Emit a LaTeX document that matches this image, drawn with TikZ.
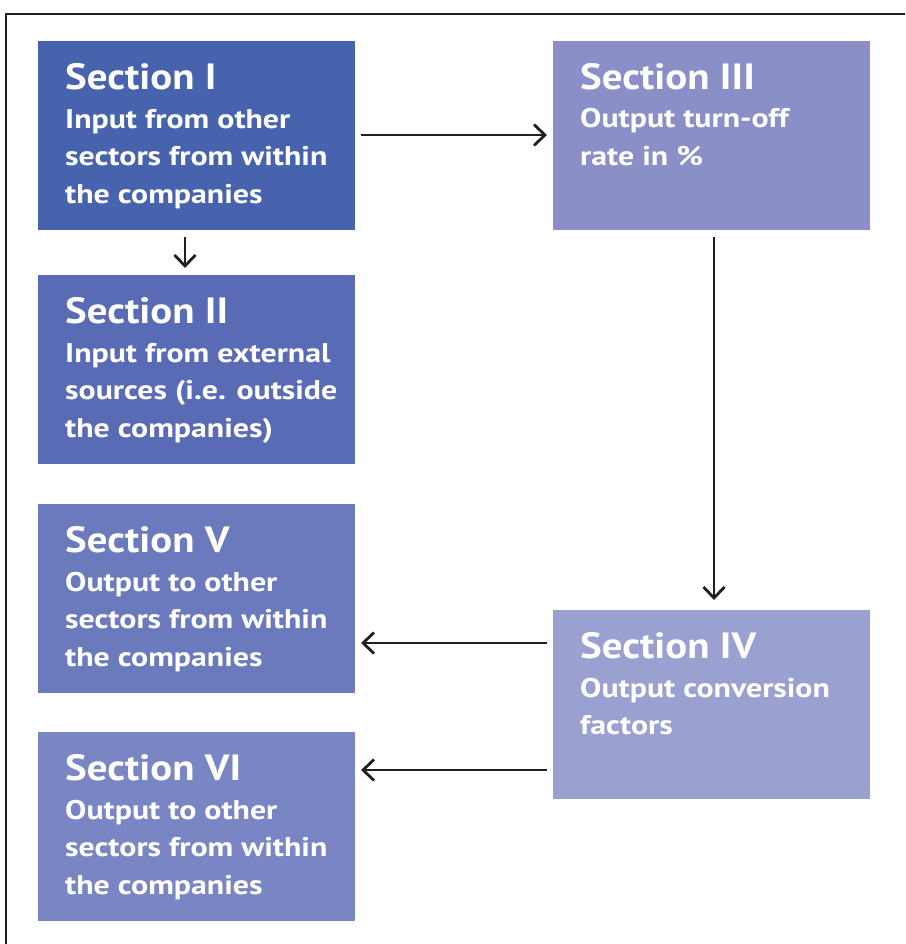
\documentclass[tikz,border=0pt]{standalone}
\usepackage{fontspec}
\setmainfont{PT Sans}
\newfontfamily\wideface{PT Sans}[FakeStretch=1.18]
\newfontfamily\titleface{PT Sans}[FakeStretch=1.12]
\usetikzlibrary{arrows.meta}
\definecolor{cI}{HTML}{4763AD}
\definecolor{cII}{HTML}{5A6BB5}
\definecolor{cIII}{HTML}{8A90C7}
\definecolor{cIV}{HTML}{9AA0D0}
\definecolor{cV}{HTML}{6B79BD}
\definecolor{cVI}{HTML}{7A85C3}
\definecolor{ink}{HTML}{231F20}
\begin{document}
\begin{tikzpicture}[x=1pt,y=-1pt,
  secbox/.style={minimum width=317pt,minimum height=189pt,inner sep=0pt,anchor=north west,draw=none},
  sectitle/.style={anchor=base west,inner sep=0pt,text=white,font=\titleface\bfseries\fontsize{36.5}{40}\selectfont},
  secbody/.style={anchor=base west,inner sep=0pt,text=white,align=left,font=\wideface\bfseries\fontsize{27}{37.7}\selectfont},
  link/.style={draw=ink,line width=2.8pt,-{Straight Barb[length=11pt,width=21pt]}}]
\useasboundingbox (0,0) rectangle (905,944);
\fill[white] (0,0) rectangle (905,944);
\draw[ink,line width=2.2pt] (6,944) -- (6,14) -- (905,14);
% boxes
\node[secbox,fill=cI]   (s1) at (38,41)  {};
\node[secbox,fill=cIII] (s3) at (553,41) {};
\node[secbox,fill=cII]  (s2) at (38,275) {};
\node[secbox,fill=cV]   (s5) at (38,504) {};
\node[secbox,fill=cIV]  (s4) at (553,610) {};
\node[secbox,fill=cVI]  (s6) at (38,732) {};
% texts (body nodes anchored at the baseline of their last line)
\node[sectitle] (t1) at (65,89.3) {Section I};
\node[secbody]  (b1) at (65,203.4) {Input from other\\sectors from within\\the companies};
\node[sectitle] (t3) at (580,89.3) {Section III};
\node[secbody]  (b3) at (580,165.7) {Output turn-off\\rate in \%};
\node[sectitle] (t2) at (65,323.3) {Section II};
\node[secbody]  (b2) at (65,437.4) {Input from external\\sources (i.e. outside\\the companies)};
\node[sectitle] (t5) at (65,552.3) {Section V};
\node[secbody]  (b5) at (65,666.4) {Output to other\\sectors from within\\the companies};
\node[sectitle] (t4) at (580,658.3) {Section IV};
\node[secbody]  (b4) at (580,734.7) {Output conversion\\factors};
\node[sectitle] (t6) at (65,780.3) {Section VI};
\node[secbody]  (b6) at (65,894.4) {Output to other\\sectors from within\\the companies};
% connectors
\coordinate (a1s) at (361,135); \coordinate (a1e) at (547,135);
\draw[link] (a1s) -- (a1e);
\coordinate (a2s) at (185,237); \coordinate (a2e) at (185,268);
\draw[link] (a2s) -- (a2e);
\coordinate (a3s) at (714,237); \coordinate (a3e) at (714,600);
\draw[link] (a3s) -- (a3e);
\coordinate (a4s) at (547,643); \coordinate (a4e) at (361,643);
\draw[link] (a4s) -- (a4e);
\coordinate (a5s) at (547,770); \coordinate (a5e) at (361,770);
\draw[link] (a5s) -- (a5e);
\end{tikzpicture}
\end{document}
